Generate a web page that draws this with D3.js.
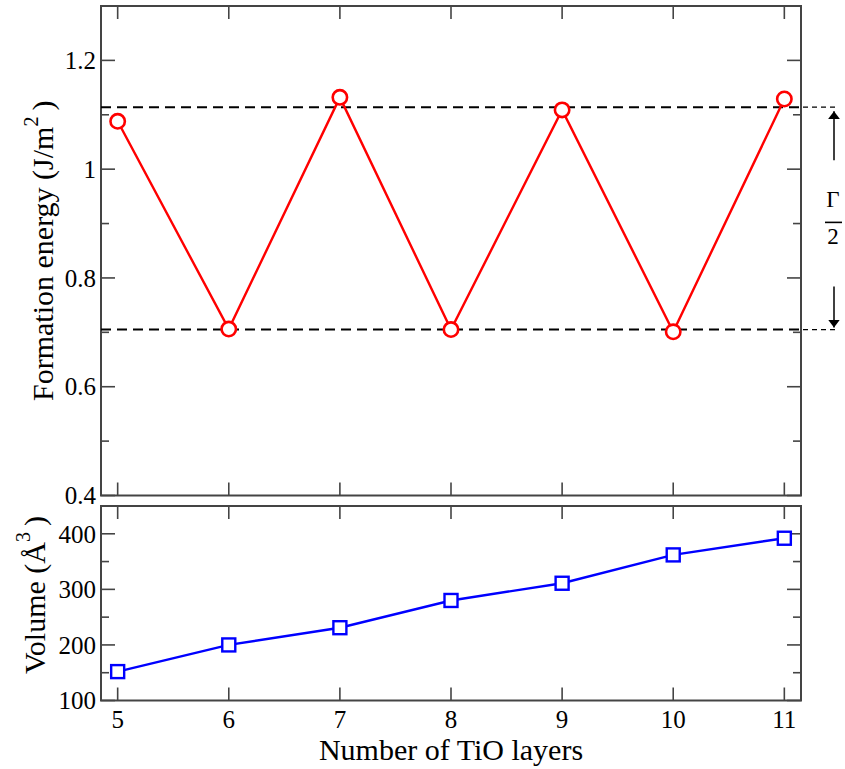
<!DOCTYPE html>
<html>
<head>
<meta charset="utf-8">
<script src="https://cdn.jsdelivr.net/npm/d3@7"></script>
<style>
  html, body { margin: 0; padding: 0; background: #fff; }
  svg { display: block; }
</style>
</head>
<body>
<svg id="chart" width="845" height="769" font-family="'Liberation Serif', 'Times New Roman', Times, 'DejaVu Serif', serif"></svg>
<script>
// Number of TiO layers
const layers = [5, 6, 7, 8, 9, 10, 11];
// Formation energy (J/m^2) per layer count
const formationEnergy = [1.088, 0.706, 1.132, 0.705, 1.109, 0.701, 1.129];
// Cell volume (Å^3) per layer count
const volume = [152, 200, 231, 280, 311, 362, 392];
// Upper / lower energy envelopes bounding the odd-even oscillation
const envelope = [1.114, 0.705];
// Tick values
const xTicks = [5, 6, 7, 8, 9, 10, 11];
const energyTicks = [0.4, 0.6, 0.8, 1.0, 1.2];
const energyMinor = [0.5, 0.7, 0.9, 1.1];
const energyTickLabels = ["0.4", "0.6", "0.8", "1", "1.2"];
const volumeTicks = [100, 200, 300, 400];
const volumeMinor = [150, 250, 350];

const svg = d3.select("#chart");
const frameColor = "#444";
const L = 101, R = 801;
const top1 = 6, bot1 = 495.5, top2 = 506, bot2 = 700.5;
const MAJ = 14, MIN = 8, XT = 13;

const x = d3.scaleLinear().domain([4.85, 11.15]).range([L, R]);
const yE = d3.scaleLinear().domain([0.4, 1.3]).range([bot1, top1]);
const yV = d3.scaleLinear().domain([100, 450]).range([bot2, top2]);

function panel(yScale, yTop, yBot, majors, minors, labels) {
  const g = svg.append("g");
  // inward ticks on all four sides
  const tk = g.append("g").attr("stroke", frameColor).attr("stroke-width", 1.6);
  xTicks.forEach(v => {
    tk.append("line").attr("x1", x(v)).attr("x2", x(v)).attr("y1", yBot).attr("y2", yBot - XT);
    tk.append("line").attr("x1", x(v)).attr("x2", x(v)).attr("y1", yTop).attr("y2", yTop + XT);
  });
  majors.forEach(v => {
    tk.append("line").attr("x1", L).attr("x2", L + MAJ).attr("y1", yScale(v)).attr("y2", yScale(v));
    tk.append("line").attr("x1", R).attr("x2", R - MAJ).attr("y1", yScale(v)).attr("y2", yScale(v));
  });
  minors.forEach(v => {
    tk.append("line").attr("x1", L).attr("x2", L + MIN).attr("y1", yScale(v)).attr("y2", yScale(v));
    tk.append("line").attr("x1", R).attr("x2", R - MIN).attr("y1", yScale(v)).attr("y2", yScale(v));
  });
  g.append("rect").attr("x", L).attr("y", yTop).attr("width", R - L).attr("height", yBot - yTop)
    .attr("fill", "none").attr("stroke", frameColor).attr("stroke-width", 2);
  g.selectAll("text.ytl").data(majors).join("text")
    .attr("class", "ytl")
    .attr("x", L - 5).attr("y", d => yScale(d))
    .attr("dy", "0.35em").attr("text-anchor", "end")
    .attr("font-size", 25)
    .text((d, i) => labels[i]);
  return g;
}

panel(yE, top1, bot1, energyTicks, energyMinor, energyTickLabels);
panel(yV, top2, bot2, volumeTicks, volumeMinor, volumeTicks.map(String));

// x tick labels under the lower panel
svg.append("g").selectAll("text").data(xTicks).join("text")
  .attr("x", d => x(d)).attr("y", 728)
  .attr("text-anchor", "middle").attr("font-size", 25)
  .text(d => d);

// envelope dashed lines, continued past the frame for the bracket
const env = svg.append("g").attr("stroke", "#000");
envelope.forEach(v => {
  env.append("line").attr("x1", L).attr("x2", R).attr("y1", yE(v)).attr("y2", yE(v))
    .attr("stroke-width", 2).attr("stroke-dasharray", "10,6");
  env.append("line").attr("x1", R + 2).attr("x2", 836).attr("y1", yE(v)).attr("y2", yE(v))
    .attr("stroke-width", 1.4).attr("stroke-dasharray", "5,4");
});

// energy series
const energyData = layers.map((d, i) => [d, formationEnergy[i]]);
svg.append("path").datum(energyData)
  .attr("fill", "none").attr("stroke", "#ff0000").attr("stroke-width", 2.4)
  .attr("d", d3.line().x(d => x(d[0])).y(d => yE(d[1])));
svg.append("g").selectAll("circle").data(energyData).join("circle")
  .attr("cx", d => x(d[0])).attr("cy", d => yE(d[1])).attr("r", 7.2)
  .attr("fill", "#fff").attr("stroke", "#ff0000").attr("stroke-width", 2.6);

// volume series
const volumeData = layers.map((d, i) => [d, volume[i]]);
svg.append("path").datum(volumeData)
  .attr("fill", "none").attr("stroke", "#0000ff").attr("stroke-width", 2.4)
  .attr("d", d3.line().x(d => x(d[0])).y(d => yV(d[1])));
svg.append("g").selectAll("rect").data(volumeData).join("rect")
  .attr("x", d => x(d[0]) - 6.5).attr("y", d => yV(d[1]) - 6.5)
  .attr("width", 13).attr("height", 13)
  .attr("fill", "#fff").attr("stroke", "#0000ff").attr("stroke-width", 2.4);

// bracket arrows with Γ/2 between the envelopes
const ax = 834;
const defs = svg.append("defs");
defs.append("marker").attr("id", "head").attr("viewBox", "0 0 10 10")
  .attr("refX", 10).attr("refY", 5).attr("markerWidth", 8).attr("markerHeight", 12)
  .attr("markerUnits", "userSpaceOnUse").attr("orient", "auto")
  .attr("preserveAspectRatio", "none")
  .append("path").attr("d", "M0,0 L10,5 L0,10 Z").attr("fill", "#000");
const yUp = yE(envelope[0]), yLo = yE(envelope[1]);
svg.append("line").attr("x1", ax).attr("x2", ax).attr("y1", yUp + 53).attr("y2", yUp + 4)
  .attr("stroke", "#000").attr("stroke-width", 1.5).attr("marker-end", "url(#head)");
svg.append("line").attr("x1", ax).attr("x2", ax).attr("y1", yLo - 43).attr("y2", yLo - 2)
  .attr("stroke", "#000").attr("stroke-width", 1.5).attr("marker-end", "url(#head)");
const mid = (yUp + yLo) / 2;
svg.append("text").attr("x", ax - 1).attr("y", mid - 11).attr("text-anchor", "middle")
  .attr("font-size", 23).text("Γ");
svg.append("line").attr("x1", ax - 9).attr("x2", ax + 8).attr("y1", mid + 4).attr("y2", mid + 4)
  .attr("stroke", "#000").attr("stroke-width", 1.6);
svg.append("text").attr("x", ax - 1).attr("y", mid + 26).attr("text-anchor", "middle")
  .attr("font-size", 23).text("2");

// axis titles
const t1 = svg.append("text")
  .attr("transform", `translate(53,${(top1 + bot1) / 2}) rotate(-90)`)
  .attr("text-anchor", "middle").attr("font-size", 30);
t1.append("tspan").text("Formation energy (J/m");
t1.append("tspan").attr("dy", "-0.75em").attr("font-size", 20).text("2");
t1.append("tspan").attr("dy", "0.5em").text("\u2009)");

const t2 = svg.append("text")
  .attr("transform", `translate(45,595) rotate(-90)`)
  .attr("text-anchor", "middle").attr("font-size", 30);
t2.append("tspan").text("Volume (Å");
t2.append("tspan").attr("dy", "-0.75em").attr("font-size", 20).text("3");
t2.append("tspan").attr("dy", "0.5em").text("\u2009)");

svg.append("text").attr("x", (L + R) / 2).attr("y", 760)
  .attr("text-anchor", "middle").attr("font-size", 30)
  .text("Number of TiO layers");
</script>
</body>
</html>
